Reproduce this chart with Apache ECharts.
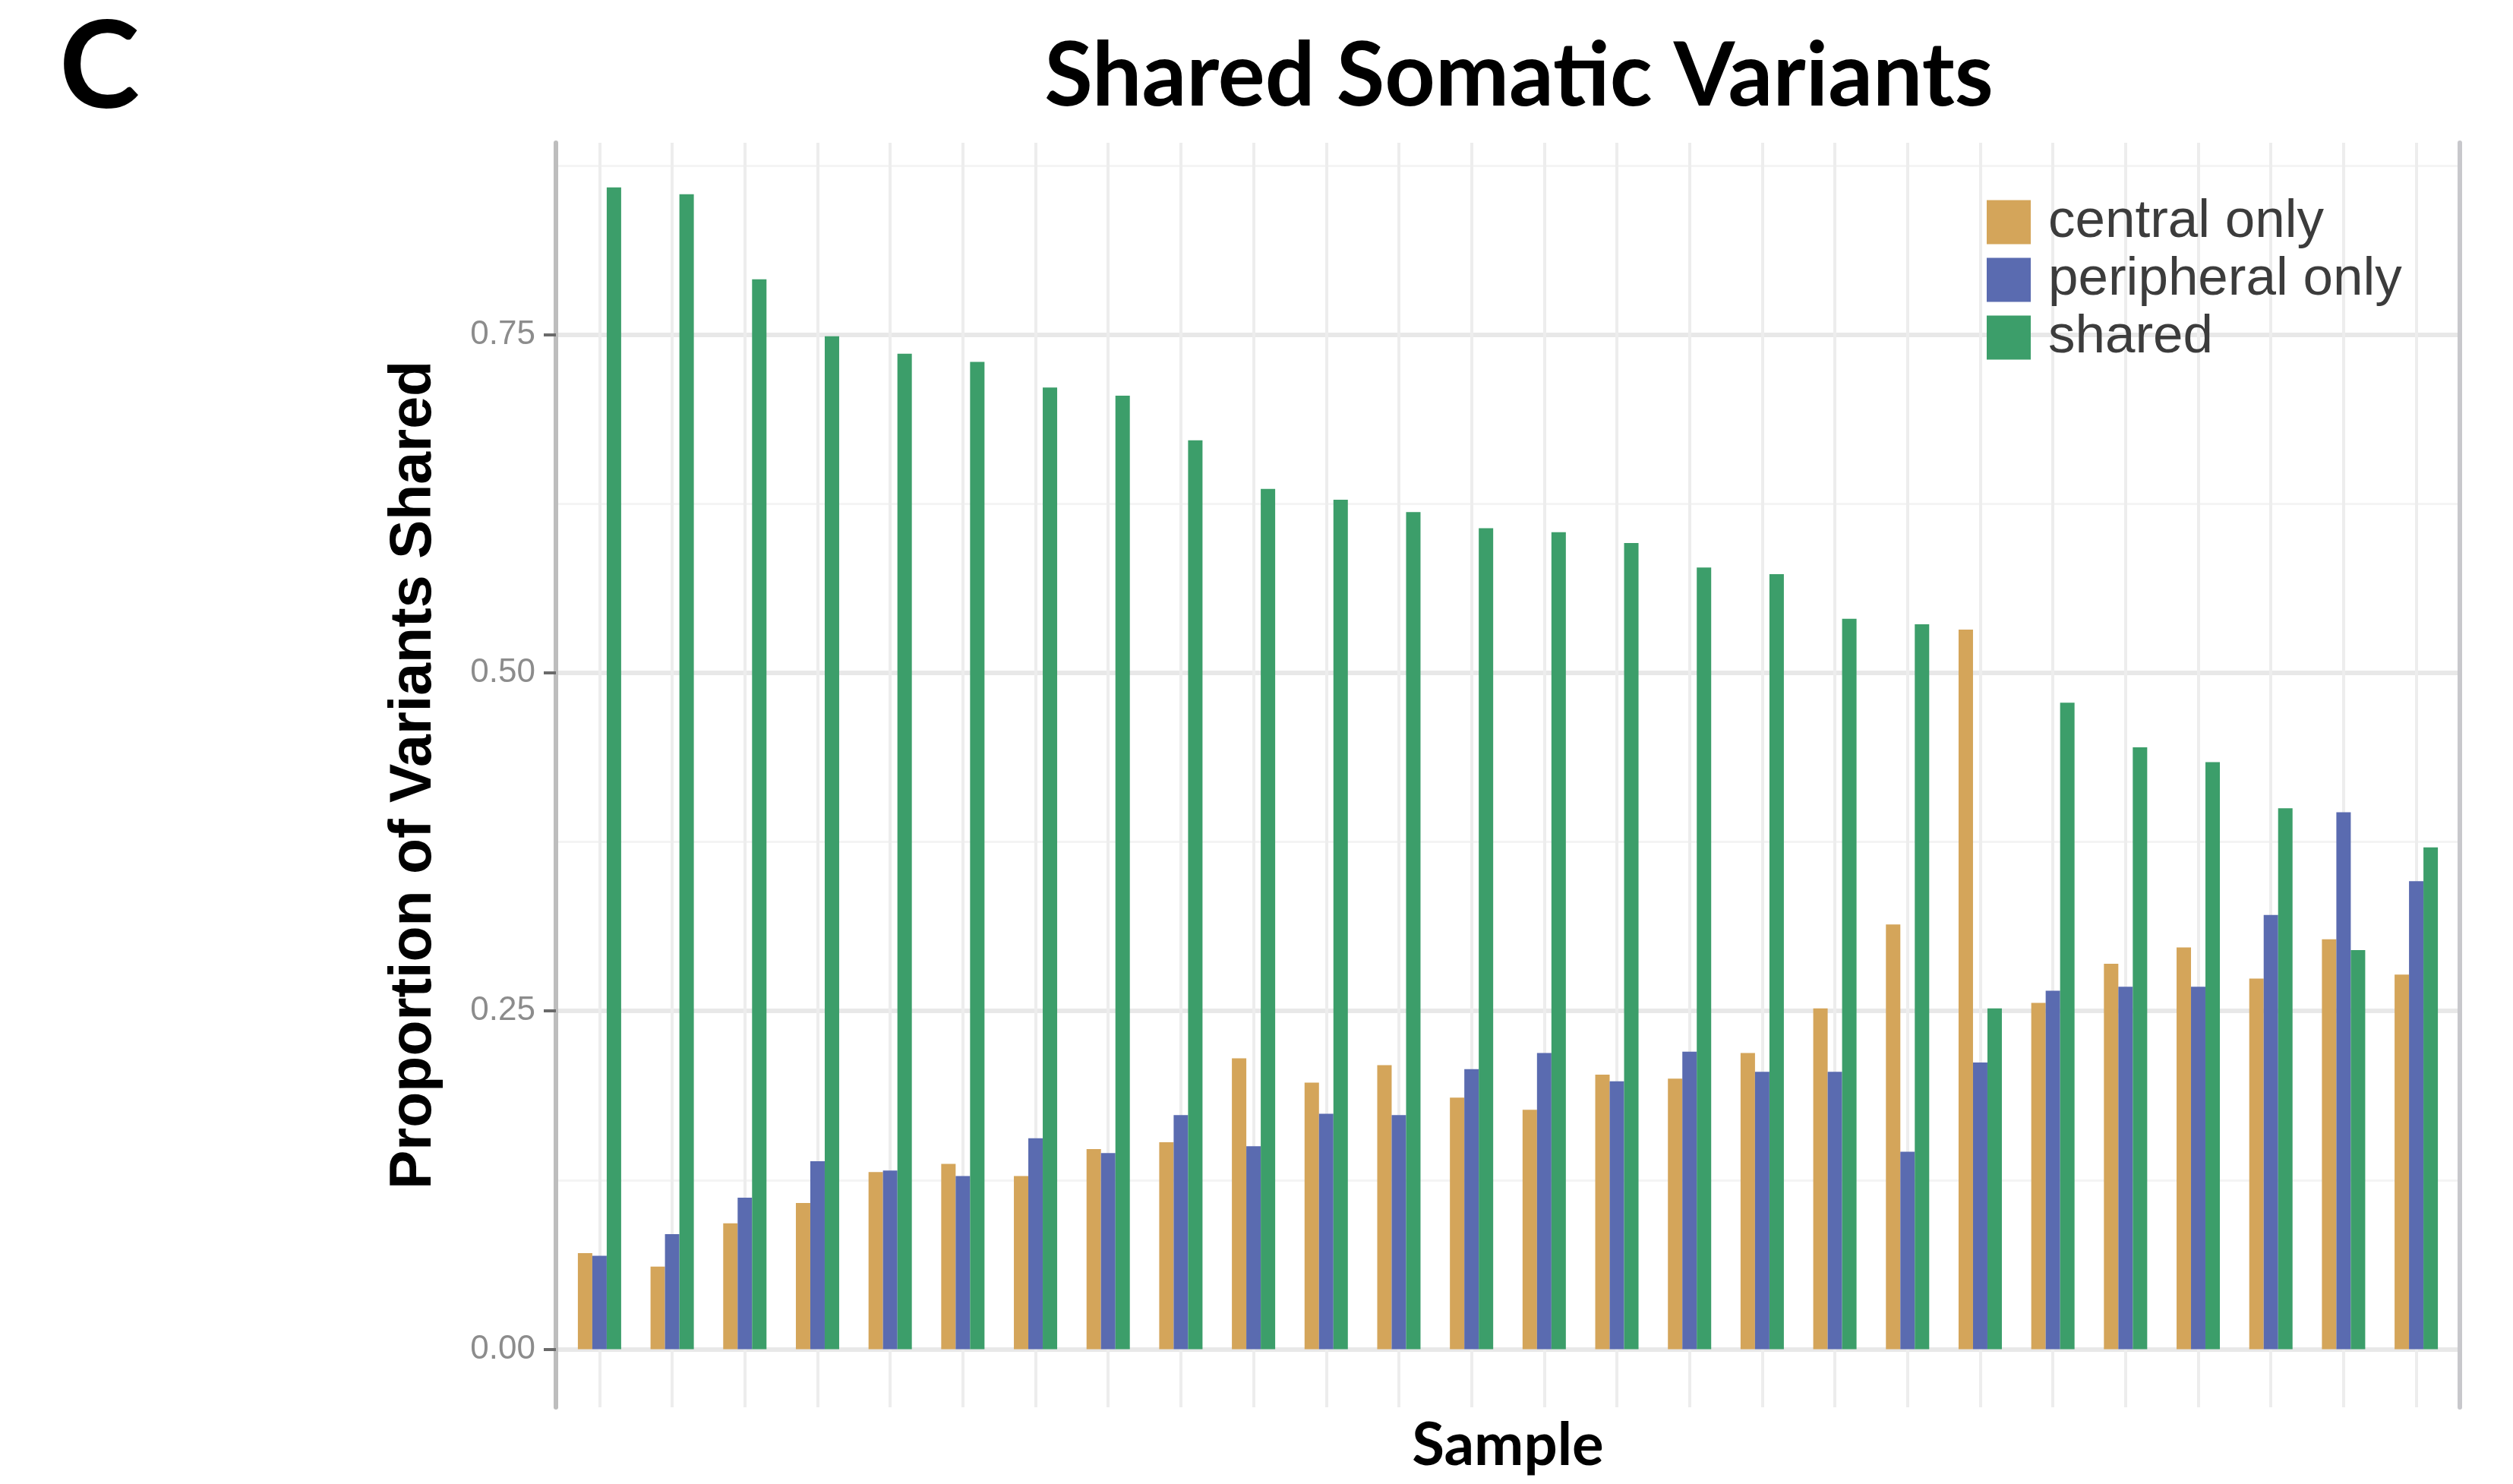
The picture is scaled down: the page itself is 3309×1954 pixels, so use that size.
<!DOCTYPE html>
<html>

<head>
  <meta charset="utf-8">
  <title>Shared Somatic Variants</title>
  <script src="https://cdn.jsdelivr.net/npm/echarts@6/dist/echarts.min.js"></script>
</head>

<body style="margin:0">
  <div id="main" style="width: 3309px;height:1954px;"></div>
  <script type="text/javascript">
    // samples, ordered by the shared proportion (as in the figure)
    var samples = ['S01', 'S02', 'S03', 'S04', 'S05', 'S06', 'S07', 'S08', 'S09', 'S10', 'S11', 'S12', 'S13',
      'S14', 'S15', 'S16', 'S17', 'S18', 'S19', 'S20', 'S21', 'S22', 'S23', 'S24', 'S25', 'S26'];

    var centralOnly = [0.071, 0.061, 0.093, 0.108, 0.131, 0.137, 0.128, 0.148, 0.153, 0.215, 0.197, 0.210, 0.186,
      0.177, 0.203, 0.200, 0.219, 0.252, 0.314, 0.532, 0.256, 0.285, 0.297, 0.274, 0.303, 0.277];
    var peripheralOnly = [0.069, 0.085, 0.112, 0.139, 0.132, 0.128, 0.156, 0.145, 0.173, 0.150, 0.174, 0.173, 0.207,
      0.219, 0.198, 0.220, 0.205, 0.205, 0.146, 0.212, 0.265, 0.268, 0.268, 0.321, 0.397, 0.346];
    var shared = [0.859, 0.854, 0.791, 0.749, 0.736, 0.730, 0.711, 0.705, 0.672, 0.636, 0.628, 0.619, 0.607,
      0.604, 0.596, 0.578, 0.573, 0.540, 0.536, 0.252, 0.478, 0.445, 0.434, 0.400, 0.295, 0.371];

    var yTicks = [0, 0.25, 0.5, 0.75];
    var yMinorTicks = [0.125, 0.375, 0.625, 0.875];

    var myChart = echarts.init(document.getElementById('main'));

    // bars sit on a numeric x axis so the panel can keep ggplot's 0.6 padding
    function toPairs(vals) {
      return vals.map(function (v, i) { return [i, v]; });
    }
    var sampleIdx = samples.map(function (s, i) { return i; });

    var barCommon = {
      type: 'bar',
      barWidth: 19,
      barGap: '0%'
    };

    option = {
      animation: false,
      backgroundColor: '#ffffff',
      graphic: [
        {
          type: 'text', x: 131, y: 90,
          style: { text: 'C', font: 'bold 160px Lato', fill: '#000', align: 'center', verticalAlign: 'middle' }
        },
        {
          type: 'text', x: 2000, y: 102,
          style: { text: 'Shared Somatic Variants', font: 'bold 116px Lato', fill: '#000', align: 'center', verticalAlign: 'middle' }
        }
      ],
      legend: {
        data: ['central only', 'peripheral only', 'shared'],
        orient: 'vertical',
        left: 2611,
        top: 252,
        icon: 'rect',
        itemWidth: 58,
        itemHeight: 58,
        itemGap: 5,
        selectedMode: false,
        textStyle: {
          fontFamily: 'Liberation Sans',
          fontSize: 71,
          color: '#3c3c3c',
          padding: [0, 0, 0, 18]
        }
      },
      grid: {
        left: 732,
        right: 70,
        top: 188,
        bottom: 101
      },
      xAxis: {
        type: 'value',
        min: -0.6,
        max: 25.6,
        name: 'Sample',
        nameLocation: 'middle',
        nameGap: 12,
        nameTextStyle: { fontFamily: 'Lato', fontWeight: 'bold', fontSize: 78, color: '#000' },
        axisLine: { show: false },
        axisTick: { show: false, customValues: sampleIdx },
        axisLabel: { show: false, customValues: sampleIdx },
        splitLine: { show: true, lineStyle: { color: '#ededed', width: 4 } }
      },
      yAxis: [
        {
          type: 'value',
          min: -0.043,
          max: 0.892,
          name: 'Proportion of Variants Shared',
          nameLocation: 'middle',
          nameGap: 148,
          nameTextStyle: { fontFamily: 'Liberation Sans', fontWeight: 'bold', fontSize: 77, color: '#000' },
          axisLine: { show: true, onZero: false, lineStyle: { color: '#bdbdbd', width: 6 } },
          axisTick: { show: true, length: 16, customValues: yTicks, lineStyle: { color: '#6a6a6a', width: 4 } },
          axisLabel: {
            customValues: yTicks,
            margin: 27,
            fontFamily: 'Liberation Sans',
            fontSize: 44,
            color: '#8c8c8c',
            formatter: function (v) { return v.toFixed(2); }
          },
          splitLine: { show: true, lineStyle: { color: '#e8e8e8', width: 6 } }
        },
        {
          // minor grid + right panel edge
          type: 'value',
          position: 'right',
          min: -0.043,
          max: 0.892,
          axisLine: { show: true, onZero: false, lineStyle: { color: '#c8c8cc', width: 6 } },
          axisTick: { show: false, customValues: yMinorTicks },
          axisLabel: { show: false, customValues: yMinorTicks },
          splitLine: { show: true, lineStyle: { color: '#f4f4f4', width: 3 } }
        }
      ],
      series: [
        Object.assign({ name: 'central only', data: toPairs(centralOnly), itemStyle: { color: '#d4a55a' } }, barCommon),
        Object.assign({ name: 'peripheral only', data: toPairs(peripheralOnly), itemStyle: { color: '#5a6bb0' } }, barCommon),
        Object.assign({ name: 'shared', data: toPairs(shared), itemStyle: { color: '#3c9e6a' } }, barCommon)
      ]
    };

    myChart.setOption(option);
  </script>
</body>

</html>
